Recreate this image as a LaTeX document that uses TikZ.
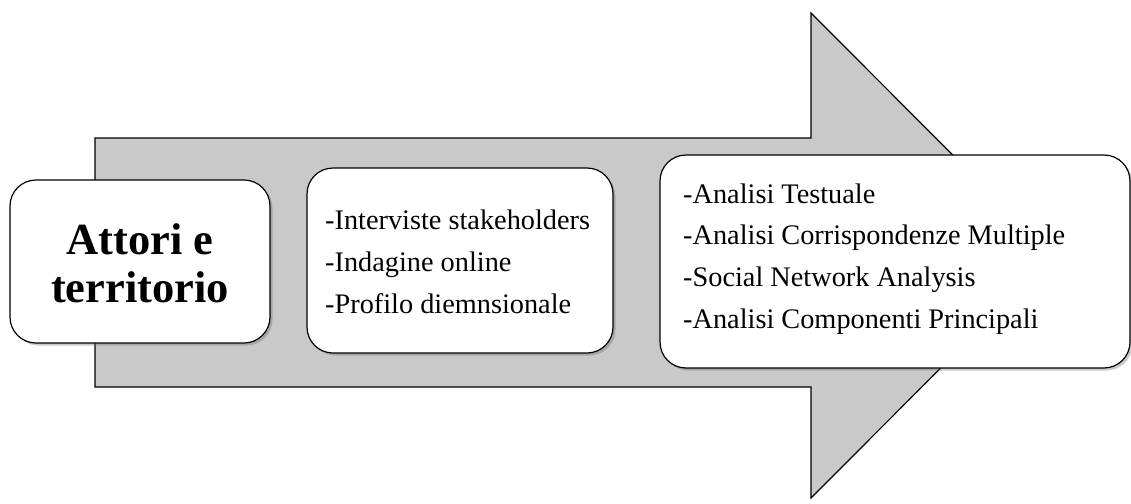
\documentclass[tikz,border=0pt]{standalone}
\usepackage{fontspec}
\setmainfont{Liberation Serif}
\usetikzlibrary{shadows}
\definecolor{arrowgray}{HTML}{C9C9C9}
\tikzset{
  bigarrow/.style={fill=arrowgray, draw=black, line width=1.2pt, line join=miter},
  stepbox/.style={draw=black, fill=white, line width=1.2pt, rounded corners=26pt,
    drop shadow={shadow xshift=2.5pt, shadow yshift=-2.5pt, opacity=0.35, fill=black!60}},
  listtext/.style={align=left, inner sep=0pt, font=\fontsize{28.3}{41.7}\selectfont},
}
\begin{document}
\begin{tikzpicture}[x=1pt, y=-1pt]
  \useasboundingbox (0,0) rectangle (1131,503);
  % block arrow behind the three stages
  \draw[bigarrow] (95,138) -- (811,138) -- (811,13) -- (1053,255.5)
    -- (811,498) -- (811,387) -- (95,387) -- cycle;
  % stage boxes
  \node[stepbox, minimum width=260pt, minimum height=163pt] (b1) at (140,261.5) {};
  \node[stepbox, minimum width=306pt, minimum height=185pt] (b2) at (460,260.5) {};
  \node[stepbox, minimum width=470pt, minimum height=213pt] (b3) at (895,261.5) {};
  % stage texts
  \node[align=center, inner sep=0pt, font=\fontsize{44.5}{48}\selectfont\bfseries] (t1) at (140,263) {Attori e\\territorio};
  \node[listtext, anchor=west] (t2) at (325,262) {-Interviste stakeholders\\-Indagine online\\-Profilo diemnsionale};
  \node[listtext, anchor=west] (t3) at (683,259) {-Analisi Testuale\\-Analisi Corrispondenze Multiple\\-Social Network Analysis\\-Analisi Componenti Principali};
\end{tikzpicture}
\end{document}
